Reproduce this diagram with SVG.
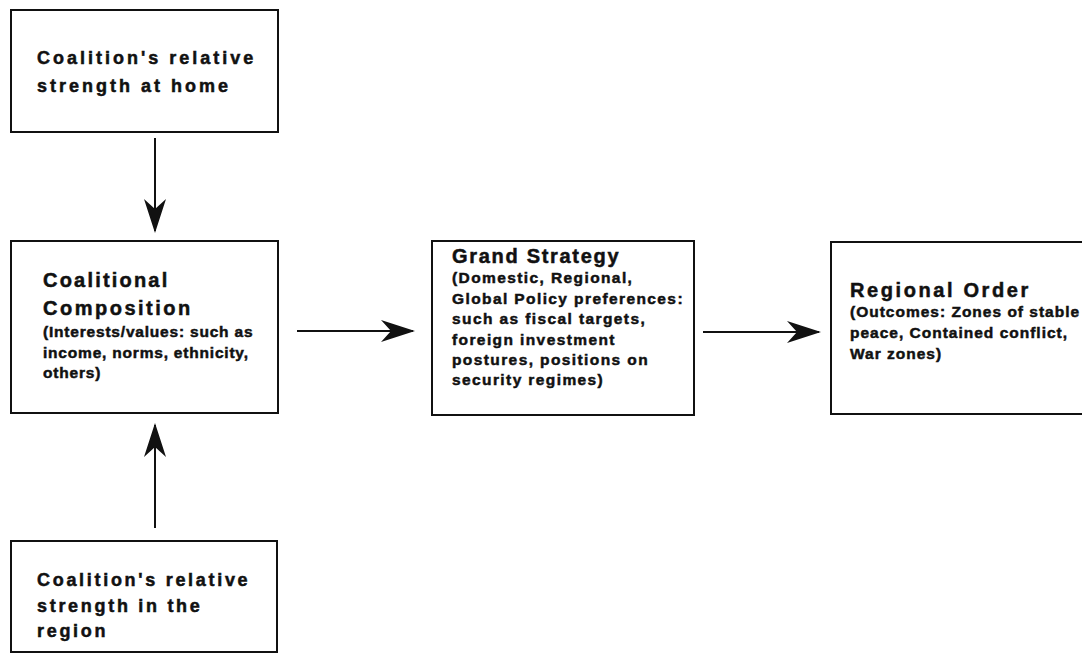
<svg xmlns="http://www.w3.org/2000/svg" width="1082" height="662" viewBox="0 0 1082 662">
<style>
.box{fill:#fff;stroke:#111;stroke-width:2}
.t{font-family:"Liberation Sans",Arial,sans-serif;font-weight:bold;fill:#111;stroke:#111;stroke-width:0.5px}
.h1{font-size:18px;letter-spacing:3px}
.h2{font-size:20px;letter-spacing:2.4px}
.b{font-size:15.5px;letter-spacing:1px}
.conn{stroke:#111;stroke-width:2;fill:none;marker-end:url(#ah)}
</style>
<defs>
<marker id="ah" viewBox="-34 -12 38 24" markerWidth="38" markerHeight="24" refX="0" refY="0" orient="auto" markerUnits="userSpaceOnUse">
<path d="M2,0 L-32,-11 L-22,0 L-32,11 Z" fill="#111"/>
</marker>
</defs>
<rect width="1082" height="662" fill="#fff"/>
<g id="home">
<rect class="box" x="11" y="10" width="267" height="122"/>
<text class="t h1" x="37" y="64">Coalition's relative</text>
<text class="t h1" x="37" y="92">strength at home</text>
</g>
<g id="composition">
<rect class="box" x="11" y="241" width="267" height="172"/>
<text class="t h2" x="43" y="287" style="letter-spacing:2.2px">Coalitional</text>
<text class="t h2" x="43" y="315" style="letter-spacing:2.5px">Composition</text>
<text class="t b" x="43" y="337" style="letter-spacing:0.8px">(Interests/values: such as</text>
<text class="t b" x="43" y="358" style="letter-spacing:0.8px">income, norms, ethnicity,</text>
<text class="t b" x="43" y="378" style="letter-spacing:0.8px">others)</text>
</g>
<g id="strategy">
<rect class="box" x="432" y="241" width="262" height="174"/>
<text class="t h2" x="452" y="263" style="letter-spacing:1.7px">Grand Strategy</text>
<text class="t b" x="452" y="283" style="letter-spacing:1.4px">(Domestic, Regional,</text>
<text class="t b" x="452" y="304" style="letter-spacing:1.4px">Global Policy preferences:</text>
<text class="t b" x="452" y="324" style="letter-spacing:1.4px">such as fiscal targets,</text>
<text class="t b" x="452" y="345" style="letter-spacing:1.4px">foreign investment</text>
<text class="t b" x="452" y="365" style="letter-spacing:1.4px">postures, positions on</text>
<text class="t b" x="452" y="385" style="letter-spacing:1.4px">security regimes)</text>
</g>
<g id="order">
<rect class="box" x="831" y="242" width="260" height="172"/>
<text class="t h2" x="850" y="297" style="letter-spacing:2.6px">Regional Order</text>
<text class="t b" x="850" y="317">(Outcomes: Zones of stable</text>
<text class="t b" x="850" y="338">peace, Contained conflict,</text>
<text class="t b" x="850" y="359">War zones)</text>
</g>
<g id="region">
<rect class="box" x="11" y="541" width="266" height="111"/>
<text class="t h1" x="37" y="586" style="letter-spacing:2.7px">Coalition's relative</text>
<text class="t h1" x="37" y="612" style="letter-spacing:2.7px">strength in the</text>
<text class="t h1" x="37" y="637" style="letter-spacing:2.7px">region</text>
</g>
<g id="connectors">
<line class="conn" x1="155" y1="138" x2="155" y2="231"/>
<line class="conn" x1="155" y1="528" x2="155" y2="425"/>
<line class="conn" x1="297" y1="331" x2="413" y2="331"/>
<line class="conn" x1="703" y1="332" x2="819" y2="332"/>
</g>
</svg>
